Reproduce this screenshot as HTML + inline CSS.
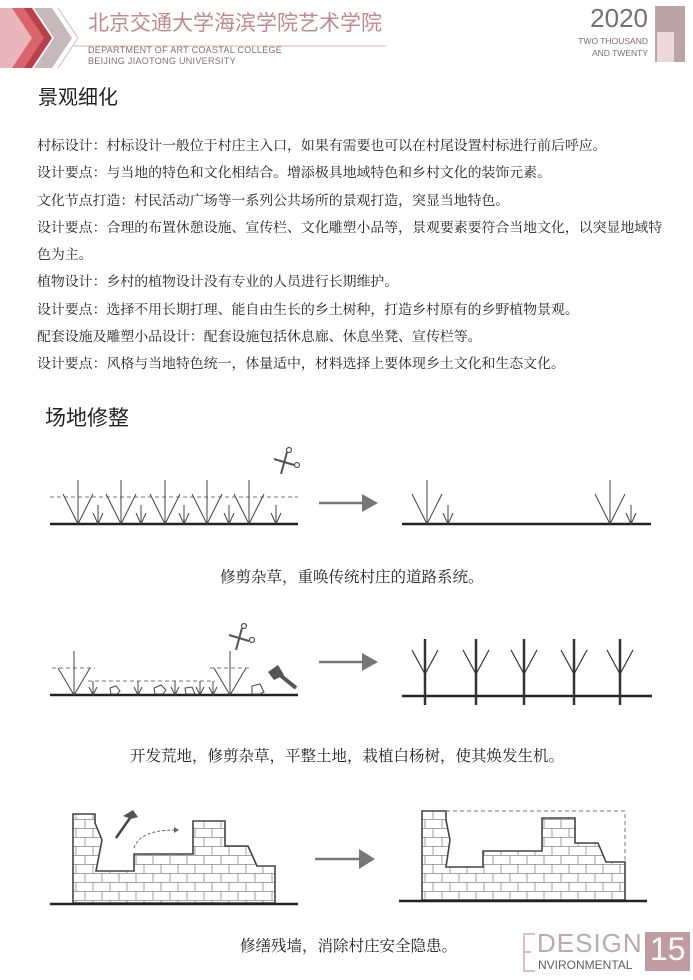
<!DOCTYPE html>
<html><head><meta charset="utf-8">
<style>
html,body{margin:0;padding:0;background:#fff;}
body{width:693px;height:980px;position:relative;overflow:hidden;font-family:"Liberation Serif","Noto Serif CJK SC",serif;}
.t{position:absolute;white-space:nowrap;}
</style></head><body>
<svg width="693" height="980" style="position:absolute;left:0;top:0" xmlns="http://www.w3.org/2000/svg">
<defs>
<pattern id="brick" patternUnits="userSpaceOnUse" width="34" height="18" x="0" y="0">
<rect width="34" height="18" fill="#fff"/>
<path d="M0 0.5H34M0 9.5H34M8 0V9M25 0V9M0 9V18M17 9V18M34 9V18" stroke="#888" stroke-width="0.8" fill="none"/>
</pattern>
</defs>
<polygon points="0,8 14,8 34,38 14,68 0,68 0,8" fill="#e9b7bb"/>
<polygon points="12,8 26,8 46,38 26,68 12,68 32,38" fill="#d9646c"/>
<polygon points="24,8 32,8 52,38 32,68 24,68 44,38" fill="#b8404a"/>
<polygon points="34,8 52,8 72,38 52,68 34,68 54,38" fill="#c6b9bb"/>
<polyline points="58,8 78,38 58,68" fill="none" stroke="#d8b5b9" stroke-width="1"/>
<line x1="74" y1="46" x2="386" y2="46" stroke="#e2c1c4" stroke-width="1.2"/>
<rect x="655" y="6" width="30" height="56" fill="#bca3a6"/>
<rect x="657" y="32" width="17" height="30" fill="#ead8da"/>
<g stroke="#444" stroke-width="1" fill="none">
<line x1="50" y1="524" x2="298" y2="524" stroke="#222" stroke-width="2.5"/>
<line x1="50" y1="497" x2="298" y2="497" stroke-dasharray="4,3" stroke="#777"/>
<path d="M78 480V524M63 494L78 524L93 494M121 480V524M106 494L121 524L136 494M165 480V524M150 494L165 524L180 494M207 480V524M192 494L207 524L222 494M249 480V524M234 494L249 524L264 494"/>
<path d="M98 505V524M93 513L98 524L103 513M141 505V524M136 513L141 524L146 513M184 505V524M179 513L184 524L189 513M229 505V524M224 513L229 524L234 513M276 505V524M271 513L276 524L281 513"/>
<line x1="402" y1="524" x2="651" y2="524" stroke="#222" stroke-width="2.5"/>
<path d="M427 480V524M412 494L427 524L442 494M610 480V524M595 494L610 524L625 494M448 505V524M443 513L448 524L453 513M631 505V524M626 513L631 524L636 513"/>
</g>
<g stroke="#555" stroke-width="2" fill="none"><line x1="274" y1="459" x2="294" y2="465"/><line x1="281" y1="474" x2="287" y2="452"/><circle cx="289" cy="450" r="2.5" stroke-width="1.2"/><circle cx="297" cy="465" r="2.5" stroke-width="1.2"/></g>
<line x1="319" y1="503" x2="364" y2="503" stroke="#777" stroke-width="2.5"/>
<polygon points="362,494 378,503 362,512" fill="#777"/>
<g stroke="#444" stroke-width="1" fill="none">
<line x1="50" y1="695" x2="298" y2="695" stroke="#222" stroke-width="2.5"/>
<path d="M52 668H95M210 668H250M88 681H215" stroke-dasharray="4,3" stroke="#777"/>
<path d="M74 651V695M58 668L74 695L90 668M230 651V695M214 668L230 695L246 668"/>
<path d="M93 681V695M89 687L93 695L97 687M138 681V695M134 687L138 695L142 687M175 681V695M171 687L175 695L179 687M200 681V695M196 687L200 695L204 687M213 681V695M209 687L213 695L217 687"/>
<path d="M111 694L110 688L116 686L120 691L117 694Z M155 694L154 688L161 685L166 690L163 694Z M186 694L185 688L192 687L195 694Z M252 694L252 686L260 684L264 692L260 694Z"/>
<line x1="402" y1="696" x2="652" y2="696" stroke="#222" stroke-width="2.5"/>
<g stroke="#333" stroke-width="2.5">
<path d="M425 639V705M476 639V705M524 639V705M574 639V705M620 639V705"/>
</g>
<g stroke="#333" stroke-width="1.2">
<path d="M412 650L425 674L438 650M463 650L476 674L489 650M511 650L524 674L537 650M561 650L574 674L587 650M607 650L620 674L633 650"/>
</g>
</g>
<g stroke="#555" stroke-width="2" fill="none"><line x1="229" y1="635" x2="249" y2="641"/><line x1="236" y1="650" x2="242" y2="628"/><circle cx="244" cy="626" r="2.5" stroke-width="1.2"/><circle cx="252" cy="640" r="2.5" stroke-width="1.2"/></g>
<line x1="280" y1="675" x2="296" y2="688" stroke="#555" stroke-width="4"/>
<polygon points="268,672 278,665 284,675 274,680" fill="#555"/>
<line x1="319" y1="662" x2="364" y2="662" stroke="#777" stroke-width="2.5"/>
<polygon points="362,653 378,662 362,671" fill="#777"/>
<polygon points="73,903 73,814 95,814 95,823 102,840 96,871 134,871 134,854 193,854 193,821 225,821 225,846 248,846 257,866 275,866 275,903" fill="url(#brick)" stroke="#444" stroke-width="1.6"/>
<line x1="50" y1="904" x2="298" y2="904" stroke="#222" stroke-width="2.5"/>
<line x1="116" y1="838" x2="130" y2="818" stroke="#444" stroke-width="2.5"/>
<polygon points="123,816 133,810 138,817 131,819" fill="#555"/>
<path d="M134 848Q140 830 175 830" fill="none" stroke="#666" stroke-width="1" stroke-dasharray="3,2"/>
<polygon points="174,827 179,830 174,833" fill="#666"/>
<line x1="315" y1="859" x2="361" y2="859" stroke="#777" stroke-width="2.5"/>
<polygon points="359,849 375,859 359,869" fill="#777"/>
<polygon points="422,900 422,811 446,811 446,820 450,840 446,867 483,867 483,851 542,851 542,818 575,818 575,843 598,843 606,862 625,862 625,900" fill="url(#brick)" stroke="#444" stroke-width="1.6"/>
<path d="M446 811H625V862" fill="none" stroke="#777" stroke-width="1" stroke-dasharray="4,3"/>
<line x1="399" y1="901" x2="647" y2="901" stroke="#222" stroke-width="2.5"/>
<path d="M535 934H524V971H535M524 952H531" fill="none" stroke="#d3a8ad" stroke-width="1.5"/>
<rect x="645" y="932" width="45" height="39" fill="#c09ca0"/>
</svg>
<div class="t" style="left:88px;top:7px;font-family:'Liberation Sans','Noto Sans CJK SC',sans-serif;font-size:21px;color:#c08a90;">北京交通大学海滨学院艺术学院</div>
<div class="t" style="left:88px;top:45px;font-family:'Liberation Sans',sans-serif;font-size:9px;color:#8a6d70;line-height:11px;letter-spacing:0.3px;">DEPARTMENT OF ART COASTAL COLLEGE<br>BEIJING JIAOTONG UNIVERSITY</div>
<div class="t" style="right:45px;top:3px;font-family:'Liberation Sans',sans-serif;font-size:26px;color:#7b6e70;">2020</div>
<div class="t" style="right:45px;top:35px;font-family:'Liberation Sans',sans-serif;font-size:8.5px;color:#7b6e70;line-height:12px;text-align:right;">TWO THOUSAND<br>AND TWENTY</div>
<div class="t" style="left:38px;top:81px;font-family:'Liberation Sans','Noto Sans CJK SC',sans-serif;font-size:20px;color:#222;">景观细化</div>
<div class="t" style="left:37px;top:133px;font-size:13.9px;color:#222;line-height:27.3px;">村标设计：村标设计一般位于村庄主入口，如果有需要也可以在村尾设置村标进行前后呼应。<br>设计要点：与当地的特色和文化相结合。增添极具地域特色和乡村文化的装饰元素。<br>文化节点打造：村民活动广场等一系列公共场所的景观打造，突显当地特色。<br>设计要点：合理的布置休憩设施、宣传栏、文化雕塑小品等，景观要素要符合当地文化，以突显地域特<br>色为主。<br>植物设计：乡村的植物设计没有专业的人员进行长期维护。<br>设计要点：选择不用长期打理、能自由生长的乡土树种，打造乡村原有的乡野植物景观。<br>配套设施及雕塑小品设计：配套设施包括休息廊、休息坐凳、宣传栏等。<br>设计要点：风格与当地特色统一，体量适中，材料选择上要体现乡土文化和生态文化。</div>
<div class="t" style="left:45px;top:402px;font-family:'Liberation Sans','Noto Sans CJK SC',sans-serif;font-size:21px;color:#222;">场地修整</div>
<div class="t" style="left:220px;top:565px;font-size:15.5px;color:#222;">修剪杂草，重唤传统村庄的道路系统。</div>
<div class="t" style="left:130px;top:744px;font-size:15.5px;color:#222;">开发荒地，修剪杂草，平整土地，栽植白杨树，使其焕发生机。</div>
<div class="t" style="left:240px;top:934px;font-size:15.5px;color:#222;">修缮残墙，消除村庄安全隐患。</div>
<div class="t" style="left:537px;top:928px;font-family:'Liberation Sans',sans-serif;font-size:26px;color:#bcaaad;letter-spacing:1px;">DESIGN</div>
<div class="t" style="left:538px;top:958px;font-family:'Liberation Sans',sans-serif;font-size:12px;color:#6e5a5d;">NVIRONMENTAL</div>
<div class="t" style="left:650px;top:931px;font-family:'Liberation Sans',sans-serif;font-size:32px;color:#fff;">15</div>
</body></html>
